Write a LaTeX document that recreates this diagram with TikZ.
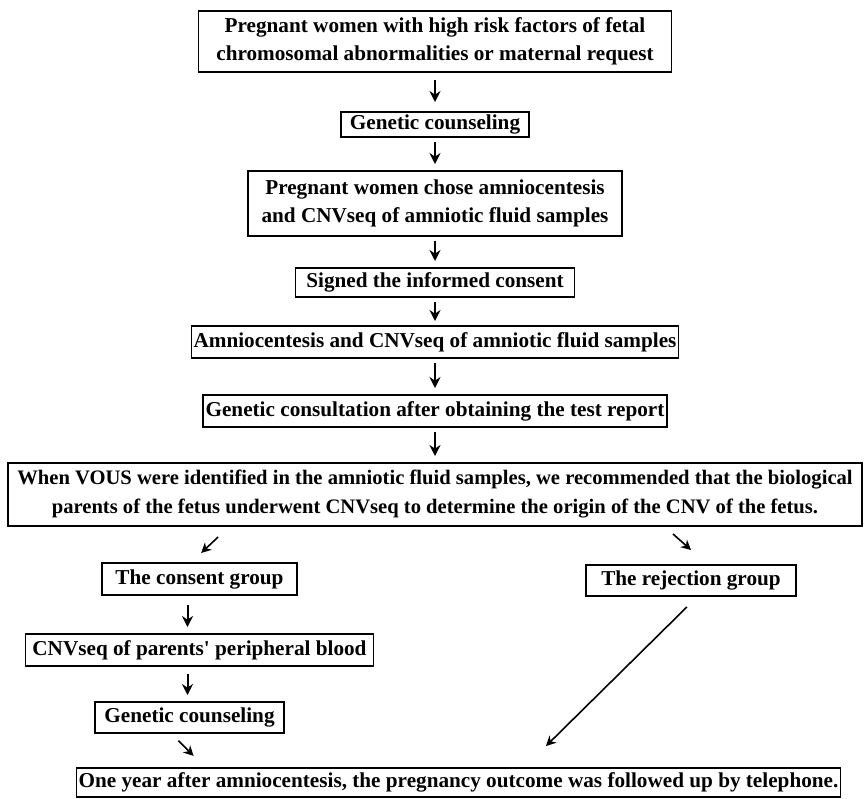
\documentclass[tikz,border=0pt]{standalone}
\usepackage{fontspec}
\setmainfont{Liberation Serif}[Ligatures=TeXOff]
\usetikzlibrary{positioning,arrows.meta}
\tikzset{
    box/.style={rectangle, draw=black, line width=0.8pt, inner sep=1pt, outer sep=0pt, align=center, font=\bfseries\fontsize{10.6}{14}\selectfont, minimum height=15.5pt},
    arr/.style={line width=1pt,-{Stealth[length=5.5pt,width=5.5pt,inset=1.8pt]}},
    thinarr/.style={line width=0.8pt,-{Stealth[length=5pt,width=5pt,inset=1.6pt]}}
    }

\begin{document}
\begin{tikzpicture}
        \useasboundingbox (0,0) rectangle (433.5pt,-399pt);
        \node[box, minimum width=236.5pt, minimum height=30.5pt] (women) at (217.5pt,-20.75pt) {Pregnant women with high risk factors of fetal\\chromosomal abnormalities or maternal request};
        \node[box, below=20pt of women, minimum width=94pt, minimum height=12.5pt] (counsel) {Genetic counseling};
        \node[box, below=17pt of counsel, minimum width=187pt, minimum height=32.5pt] (chose) {Pregnant women chose amniocentesis\\and CNVseq of amniotic fluid samples};
        \node[box, below=16pt of chose, minimum width=139.5pt, minimum height=14.5pt] (signed) {Signed the informed consent};
        \node[box, below=14.5pt of signed, minimum width=243pt, minimum height=16pt] (amnio) {Amniocentesis and CNVseq of amniotic fluid samples};
        \node[box, below=18.5pt of amnio, minimum width=232pt, minimum height=16pt] (consult) {Genetic consultation after obtaining the test report};
        \node[box, below=18pt of consult, minimum width=427pt, minimum height=31.5pt, font=\bfseries\fontsize{10.3}{14.5}\selectfont] (vous) {When VOUS were identified in the amniotic fluid samples, we recommended that the biological\\parents of the fetus underwent CNVseq to determine the origin of the CNV of the fetus.};
        % two groups
        \node[box, below=18.5pt of vous, xshift=-117.75pt, minimum width=97.5pt, minimum height=16pt] (consent) {The consent group};
        \node[box, below=19.5pt of vous, xshift=128pt, minimum width=105pt, minimum height=15.5pt] (reject) {The rejection group};
        \node[box, below=19.5pt of consent, minimum width=174pt, minimum height=16pt] (blood) {CNVseq of parents' peripheral blood};
        \node[box, below=18pt of blood, xshift=-5pt, minimum width=94.5pt, minimum height=15.5pt] (counsel2) {Genetic counseling};
        \node[box, below=17.5pt of counsel2, xshift=134.5pt, minimum width=375.5pt, minimum height=14.5pt] (phone) {One year after amniocentesis, the pregnancy outcome was followed up by telephone.};

        \draw[arr, shorten <=4pt, shorten >=5pt] (women) -- (counsel);
        \draw[arr, shorten <=2.5pt, shorten >=3.5pt] (counsel) -- (chose);
        \draw[arr, shorten <=2.5pt, shorten >=3.5pt] (chose) -- (signed);
        \draw[arr, shorten <=2.5pt, shorten >=2.5pt] (signed) -- (amnio);
        \draw[arr, shorten <=2.5pt, shorten >=3.5pt] (amnio) -- (consult);
        \draw[arr, shorten <=2.5pt, shorten >=3.5pt] (consult) -- (vous);
        \draw[thinarr, shorten <=8pt, shorten >=7.3pt] ([xshift=-102.6pt]vous.south) -- ([xshift=-4.5pt]consent.north);
        \draw[thinarr, shorten <=6pt, shorten >=11.3pt] ([xshift=114.5pt]vous.south) -- ([xshift=8.5pt]reject.north);
        \draw[arr, shorten <=5pt, shorten >=3.5pt] ([xshift=-6pt]consent.south) -- ([xshift=-6pt]consent.south |- blood.north);
        \draw[arr, shorten <=4pt, shorten >=3.5pt] ([xshift=-6pt]blood.south) -- ([xshift=-6pt]blood.south |- counsel2.north);
        \draw[thinarr, shorten <=5.4pt, shorten >=8.5pt] ([xshift=-9.35pt]counsel2.south) -- ([xshift=64.5pt]phone.north west);
        \draw[thinarr, shorten <=7.8pt, shorten >=15.6pt] ([xshift=3.5pt]reject.south) -- ([xshift=32.6pt]phone.north);
    \end{tikzpicture}
\end{document}
